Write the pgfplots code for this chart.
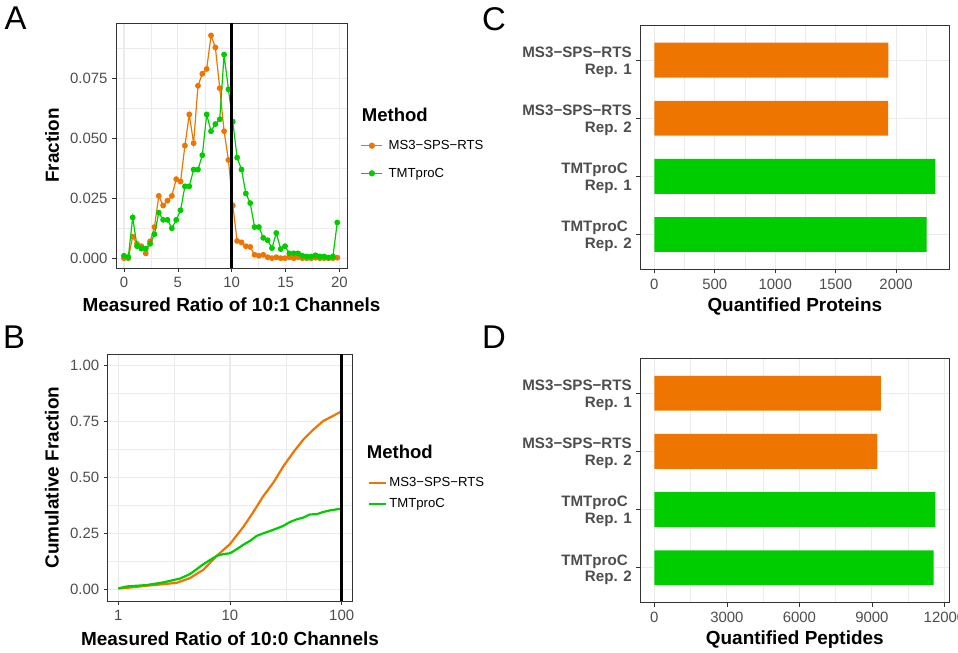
\documentclass[border=0pt]{standalone}
\usepackage{pgfplots}
\pgfplotsset{compat=1.18}
\usepackage{pgfplotstable}
\usepackage{fontspec}
\setmainfont{Liberation Sans}

\definecolor{msorange}{RGB}{238,118,0}
\definecolor{tmtgreen}{RGB}{0,205,0}
\definecolor{gridgray}{RGB}{235,235,235}
\definecolor{framegray}{RGB}{51,51,51}
\definecolor{tickgray}{RGB}{77,77,77}

% panel A: fraction per ratio bin
\pgfplotstableread{
x      ms      tmt
0.000  0.0000  0.0010
0.404  0.0000  0.0005
0.808  0.0090  0.0170
1.212  0.0060  0.0050
1.616  0.0050  0.0040
2.020  0.0020  0.0040
2.424  0.0070  0.0060
2.828  0.0130  0.0100
3.232  0.0260  0.0190
3.636  0.0220  0.0160
4.040  0.0240  0.0160
4.444  0.0260  0.0125
4.848  0.0330  0.0160
5.252  0.0320  0.0200
5.656  0.0470  0.0300
6.060  0.0600  0.0300
6.464  0.0480  0.0370
6.868  0.0720  0.0370
7.272  0.0770  0.0430
7.676  0.0790  0.0600
8.080  0.0930  0.0530
8.484  0.0880  0.0560
8.888  0.0710  0.0580
9.292  0.0530  0.0850
9.696  0.0410  0.0705
10.100 0.0220  0.0570
10.504 0.0072  0.0420
10.908 0.0066  0.0370
11.312 0.0050  0.0270
11.716 0.0047  0.0230
12.120 0.0014  0.0130
12.524 0.0010  0.0130
12.928 0.0014  0.0085
13.332 0.0004  0.0075
13.736 0.0000  0.0042
14.140 0.0004  0.0105
14.544 0.0000  0.0038
14.948 0.0000  0.0050
15.352 0.0004  0.0020
15.756 0.0000  0.0020
16.160 0.0004  0.0020
16.564 0.0000  0.0010
16.968 0.0000  0.0007
17.372 0.0000  0.0007
17.776 0.0002  0.0012
18.180 0.0000  0.0007
18.584 0.0000  0.0007
18.988 0.0000  0.0003
19.392 0.0000  0.0007
19.796 0.0002  0.0149
}\ratiotable

% panel B: cumulative fraction
\pgfplotstableread{
x     y
1.00  0.006
1.27  0.010
1.79  0.018
2.53  0.025
3.33  0.031
4.38  0.052
5.77  0.089
7.60  0.151
10.0  0.204
13.2  0.281
16.2  0.347
19.9  0.418
24.4  0.477
30.0  0.550
36.9  0.613
45.4  0.670
55.7  0.714
68.5  0.753
84.2  0.776
100   0.796
}\cumms
\pgfplotstableread{
x     y
1.00  0.006
1.19  0.015
1.79  0.021
2.53  0.033
3.57  0.050
4.38  0.070
5.77  0.114
7.60  0.151
8.70  0.159
10.0  0.163
11.5  0.181
13.2  0.201
15.1  0.218
17.3  0.240
19.9  0.252
22.8  0.262
26.1  0.273
30.0  0.285
34.4  0.302
39.5  0.314
45.4  0.322
52.0  0.336
59.7  0.337
68.5  0.347
78.6  0.354
100   0.362
}\cumtmt

\pgfplotsset{
  gg/.style={
    scale only axis, anchor=south west,
    clip mode=individual,
    tick pos=left, tick align=outside,
    major tick length=4bp, minor tick length=0pt,
    tick style={framegray, line width=0.6bp},
    axis line style={framegray, line width=0.6bp},
    grid=both,
    major grid style={gridgray, line width=1.1bp},
    minor grid style={gridgray, line width=0.55bp},
    tick label style={font=\fontsize{15}{15}\selectfont, text=tickgray},
    xticklabel style={yshift=-2bp},
    yticklabel style={xshift=-1bp},
    label style={font=\fontsize{19}{19}\selectfont\bfseries, text=black},
    /pgf/number format/assume math mode=true,
    /pgf/number format/1000 sep={},
    scaled ticks=false,
  },
  gglegend/.style={
    legend style={draw=none, fill=none, inner sep=0pt, anchor=north west,
      font=\fontsize{13.2}{13.2}\selectfont, row sep=#1},
    legend cell align=left,
  },
  catlabels/.style={
    ytick={1,2,3,4},
    yticklabels={{MS3−SPS−RTS\\Rep. 1},{MS3−SPS−RTS\\Rep. 2},
                 {TMTproC\hspace*{4bp}\\Rep. 1},{TMTproC\hspace*{4bp}\\Rep. 2}},
    yticklabel style={align=right, font=\fontsize{15.2}{16.7}\selectfont\bfseries,
      text=tickgray, yshift=-2bp},
    ymin=0.4, ymax=4.6, y dir=reverse,
    xbar, bar width=0.6,
  },
}

\begin{document}
\begin{tikzpicture}
\path (0,0) rectangle (958bp,653bp);

% ---------- A ----------
\begin{axis}[gg, at={(116bp,385bp)}, width=231bp, height=245bp,
  xmin=-0.74, xmax=20.7, ymin=-0.0041, ymax=0.0982,
  xtick={0,5,10,15,20}, minor xtick={2.5,7.5,12.5,17.5},
  ytick={0,0.025,0.05,0.075}, minor ytick={0.0125,0.0375,0.0625,0.0875},
  yticklabel style={/pgf/number format/fixed, /pgf/number format/fixed zerofill,
    /pgf/number format/precision=3},
  xlabel={Measured Ratio of 10:1 Channels}, ylabel={Fraction},
  xlabel style={at={(axis description cs:0.5,-0.151)}, anchor=center},
  ylabel style={at={(axis description cs:-0.277,0.5)}, anchor=center},
  gglegend=13bp,
  legend style={at={(axis description cs:1.058,0.53)}, column sep=3.5bp},
  legend image code/.code={\draw[mark repeat=2, mark phase=2, #1, line width=1.6bp]
    plot coordinates {(0bp,0bp) (10.5bp,0bp) (21bp,0bp)};},
]
\addplot[msorange, line width=1.2bp, mark=*, mark size=2.3bp] table[x=x, y=ms] {\ratiotable};
\addplot[tmtgreen, line width=1.2bp, mark=*, mark size=2.3bp] table[x=x, y=tmt] {\ratiotable};
\addplot[black, line width=3bp, forget plot] coordinates {(10,-0.0041) (10,0.0982)};
\legend{MS3−SPS−RTS, TMTproC}
\node[anchor=west, font=\fontsize{18.6}{18.6}\selectfont\bfseries, inner sep=0pt]
  at (axis description cs:1.0636,0.6245) {Method};
\end{axis}

% ---------- B ----------
\begin{axis}[gg, at={(107.7bp,52bp)}, width=244.6bp, height=246.7bp,
  xmode=log, log basis x=10,
  xmin=0.8035, xmax=124.5, ymin=-0.05, ymax=1.05,
  xtick={1,10,100}, xticklabels={1,10,100}, minor xtick={3.1623,31.623},
  ytick={0,0.25,0.5,0.75,1}, minor ytick={0.125,0.375,0.625,0.875},
  yticklabel style={/pgf/number format/fixed, /pgf/number format/fixed zerofill,
    /pgf/number format/precision=2},
  xlabel={Measured Ratio of 10:0 Channels}, ylabel={Cumulative Fraction},
  xlabel style={at={(axis description cs:0.5,-0.154)}, anchor=center},
  ylabel style={at={(axis description cs:-0.228,0.5)}, anchor=center},
  gglegend=6.6bp,
  legend style={at={(axis description cs:1.064,0.51)}},
  legend image code/.code={\draw[#1] (0bp,0bp) -- (17bp,0bp);},
]
\addplot[msorange, line width=2.2bp] table {\cumms};
\addplot[tmtgreen, line width=2.2bp] table {\cumtmt};
\addplot[black, line width=3bp, forget plot] coordinates {(100,-0.05) (100,1.05)};
\legend{MS3−SPS−RTS, TMTproC}
\node[anchor=west, font=\fontsize{18.6}{18.6}\selectfont\bfseries, inner sep=0pt]
  at (axis description cs:1.059,0.604) {Method};
\end{axis}

% ---------- C ----------
\begin{axis}[gg, catlabels, at={(640.3bp,383.7bp)}, width=309bp, height=244bp,
  xmin=-116, xmax=2440,
  xtick={0,500,1000,1500,2000}, minor xtick={250,750,1250,1750,2250},
  xlabel={Quantified Proteins},
  xlabel style={at={(axis description cs:0.5,-0.153)}, anchor=center},
]
\addplot[fill=msorange, draw=none, bar shift=0pt] coordinates {(1936,1) (1933,2)};
\addplot[fill=tmtgreen, draw=none, bar shift=0pt] coordinates {(2324,3) (2253,4)};
\end{axis}

% ---------- D ----------
\begin{axis}[gg, catlabels, at={(640.3bp,50.3bp)}, width=309bp, height=244.4bp,
  xmin=-581, xmax=12200,
  xtick={0,3000,6000,9000,12000}, minor xtick={1500,4500,7500,10500},
  xlabel={Quantified Peptides},
  xlabel style={at={(axis description cs:0.5,-0.153)}, anchor=center},
]
\addplot[fill=msorange, draw=none, bar shift=0pt] coordinates {(9368,1) (9229,2)};
\addplot[fill=tmtgreen, draw=none, bar shift=0pt] coordinates {(11622,3) (11556,4)};
\end{axis}

% panel letters
\node[font=\fontsize{33}{33}\selectfont] at (15.5bp,634.5bp) {A};
\node[font=\fontsize{33}{33}\selectfont] at (14bp,316bp) {B};
\node[font=\fontsize{33}{33}\selectfont] at (494bp,634bp) {C};
\node[font=\fontsize{33}{33}\selectfont] at (494bp,316bp) {D};

\pgfresetboundingbox
\path (0,0) rectangle (958bp,653bp);
\end{tikzpicture}
\end{document}
